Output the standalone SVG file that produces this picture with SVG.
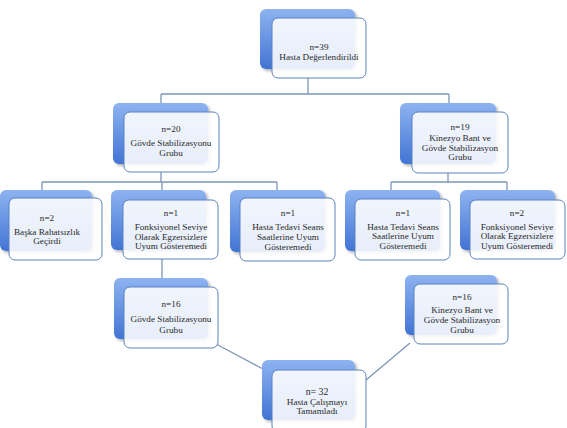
<svg xmlns="http://www.w3.org/2000/svg" width="567" height="428" viewBox="0 0 567 428">
<defs>
<linearGradient id="bg" x1="0" y1="0" x2="0" y2="1">
<stop offset="0" stop-color="#8db3f0"/>
<stop offset="1" stop-color="#4274d4"/>
</linearGradient>
<filter id="sh" x="-10%" y="-10%" width="130%" height="130%">
<feGaussianBlur in="SourceAlpha" stdDeviation="1.5"/>
<feOffset dx="1.5" dy="1.5"/>
<feComponentTransfer><feFuncA type="linear" slope="0.3"/></feComponentTransfer>
<feMerge><feMergeNode/><feMergeNode in="SourceGraphic"/></feMerge>
</filter>
</defs>
<style>
.back{fill:url(#bg);filter:url(#sh)}
.front{fill:#ffffff;fill-opacity:0.88;stroke:#5b82c2;stroke-width:1}
.t{font-family:"Liberation Serif","DejaVu Serif",serif;font-size:9.2px;fill:#2a2a2a;text-anchor:middle}
.c{fill:none;stroke:#7d96bb;stroke-width:1.3}
</style>
<rect width="567" height="428" fill="#ffffff"/>
<g id="connectors">
<path class="c" d="M308 78V94M161 94H449M161 94V104M449 94V104"/>
<path class="c" d="M161 172V182M42 182H277M42 182V191M162 182V191M277 182V191"/>
<path class="c" d="M448 173V182M391 182H507M391 182V191M507 182V191"/>
<path class="c" d="M162 259V279"/>
<path class="c" d="M216 344L263 369M410 343L366 380"/>
</g>
<g id="n39">
<rect class="back" x="260" y="9" width="95" height="60" rx="6"/>
<rect class="front" x="272" y="18" width="94" height="60" rx="6"/>
<text class="t" x="319" y="50">n=39</text>
<text class="t" x="319" y="60">Hasta Değerlendirildi</text>
</g>
<g id="n20">
<rect class="back" x="113" y="103" width="95" height="61" rx="6"/>
<rect class="front" x="124" y="112" width="95" height="60" rx="6"/>
<text class="t" x="171" y="132">n=20</text>
<text class="t" x="171" y="146">Gövde Stabilizasyonu</text>
<text class="t" x="171" y="156">Grubu</text>
</g>
<g id="n19">
<rect class="back" x="400" y="103" width="96" height="61" rx="6"/>
<rect class="front" x="412" y="112" width="96" height="61" rx="6"/>
<text class="t" x="460" y="130">n=19</text>
<text class="t" x="460" y="141">Kinezyo Bant ve</text>
<text class="t" x="460" y="151">Gövde Stabilizasyon</text>
<text class="t" x="460" y="160">Grubu</text>
</g>
<g id="n2a">
<rect class="back" x="0" y="190" width="92" height="61" rx="6"/>
<rect class="front" x="9" y="198" width="93" height="62" rx="6"/>
<text class="t" x="47" y="221">n=2</text>
<text class="t" x="47" y="235">Başka Rahatsızlık</text>
<text class="t" x="47" y="244">Geçirdi</text>
</g>
<g id="n1a">
<rect class="back" x="111" y="190" width="95" height="60" rx="6"/>
<rect class="front" x="123" y="200" width="95" height="59" rx="6"/>
<text class="t" x="171" y="216">n=1</text>
<text class="t" x="171" y="230">Fonksiyonel Seviye</text>
<text class="t" x="171" y="240">Olarak Egzersizlere</text>
<text class="t" x="171" y="249">Uyum Gösteremedi</text>
</g>
<g id="n1b">
<rect class="back" x="230" y="190" width="95" height="62" rx="6"/>
<rect class="front" x="240" y="198" width="95" height="63" rx="6"/>
<text class="t" x="288" y="216">n=1</text>
<text class="t" x="288" y="230">Hasta Tedavi Seans</text>
<text class="t" x="288" y="240">Saatlerine Uyum</text>
<text class="t" x="288" y="250">Gösteremedi</text>
</g>
<g id="n1c">
<rect class="back" x="345" y="190" width="95" height="61" rx="6"/>
<rect class="front" x="355" y="199" width="95" height="61" rx="6"/>
<text class="t" x="403" y="216">n=1</text>
<text class="t" x="403" y="230">Hasta Tedavi Seans</text>
<text class="t" x="403" y="239">Saatlerine Uyum</text>
<text class="t" x="403" y="249">Gösteremedi</text>
</g>
<g id="n2b">
<rect class="back" x="460" y="190" width="95" height="60" rx="6"/>
<rect class="front" x="470" y="200" width="95" height="59" rx="6"/>
<text class="t" x="517" y="216">n=2</text>
<text class="t" x="517" y="230">Fonksiyonel Seviye</text>
<text class="t" x="517" y="239">Olarak Egzersizlere</text>
<text class="t" x="517" y="249">Uyum Gösteremedi</text>
</g>
<g id="n16a">
<rect class="back" x="114" y="278" width="94" height="61" rx="6"/>
<rect class="front" x="124" y="287" width="94" height="61" rx="6"/>
<text class="t" x="171" y="307">n=16</text>
<text class="t" x="171" y="322">Gövde Stabilizasyonu</text>
<text class="t" x="171" y="333">Grubu</text>
</g>
<g id="n16b">
<rect class="back" x="405" y="275" width="92" height="60" rx="6"/>
<rect class="front" x="414" y="284" width="94" height="60" rx="6"/>
<text class="t" x="462" y="300">n=16</text>
<text class="t" x="462" y="313">Kinezyo Bant ve</text>
<text class="t" x="462" y="323">Gövde Stabilizasyon</text>
<text class="t" x="462" y="333">Grubu</text>
</g>
<g id="n32">
<rect class="back" x="262" y="360" width="93" height="60" rx="6"/>
<rect class="front" x="272" y="370" width="94" height="62" rx="6"/>
<text class="t" x="317" y="395" style="font-size:9.8px">n= 32</text>
<text class="t" x="317" y="405">Hasta Çalışmayı</text>
<text class="t" x="317" y="414">Tamamladı</text>
</g>
</svg>
